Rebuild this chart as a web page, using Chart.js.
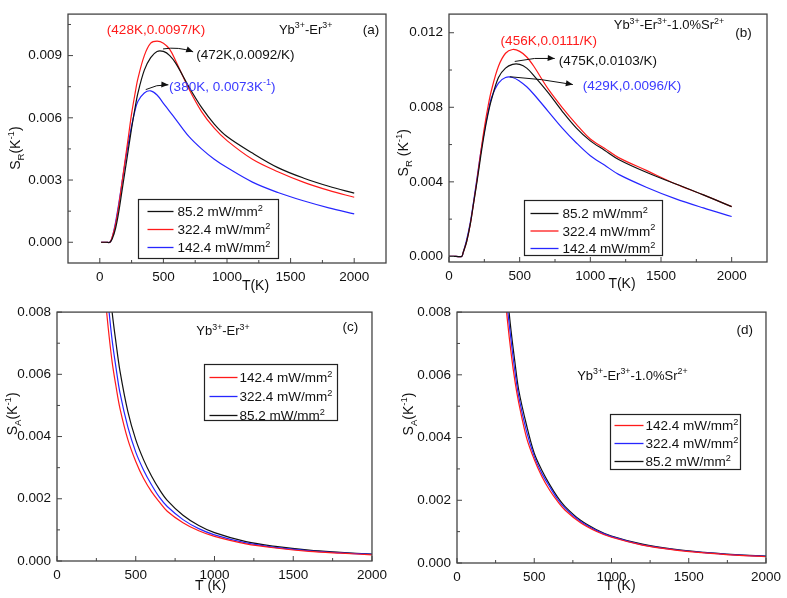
<!DOCTYPE html>
<html>
<head>
<meta charset="utf-8">
<script src="https://cdn.jsdelivr.net/npm/chart.js@4.4.0/dist/chart.umd.min.js"></script>
<style>
  body { margin: 0; background: #fff; width: 787px; height: 598px; position: relative; overflow: hidden; }
  canvas { position: absolute; }
</style>
</head>
<body>
<canvas id="chartA" width="393" height="298" style="left:0;top:0"></canvas>
<canvas id="chartB" width="394" height="298" style="left:393px;top:0"></canvas>
<canvas id="chartC" width="393" height="300" style="left:0;top:298px"></canvas>
<canvas id="chartD" width="394" height="300" style="left:393px;top:298px"></canvas>
<script>
// ---- data ----
var tempTicks = [0, 500, 1000, 1500, 2000];
var yTicksA = [0, 0.003, 0.006, 0.009];
var yTicksB = [0, 0.004, 0.008, 0.012];
var yTicksCD = [0, 0.002, 0.004, 0.006, 0.008];

// (a) Yb-Er, relative sensitivity S_R
var tempA = [10, 50, 80, 100, 125, 150, 175, 200, 225, 250, 275, 300, 350, 400, 450, 500, 550, 600, 700, 800, 900, 1000, 1200, 1400, 1600, 1800, 2000];
var srA_852 = [0, 0, 0, 0.0002, 0.0007, 0.0015, 0.0025, 0.0035, 0.0045, 0.0055, 0.0064, 0.0072, 0.0083, 0.0089, 0.0092, 0.0092, 0.0090, 0.0086, 0.0075, 0.0065, 0.0057, 0.0051, 0.0043, 0.0036, 0.0031, 0.0027, 0.00237];
var srA_3224 = [0, 0, 0, 0.0003, 0.0009, 0.0018, 0.0029, 0.0040, 0.0051, 0.0062, 0.0071, 0.0079, 0.0090, 0.0096, 0.0097, 0.0096, 0.0093, 0.0087, 0.0074, 0.0063, 0.0055, 0.0049, 0.0040, 0.0034, 0.0029, 0.0025, 0.00217];
var srA_1424 = [0, 0, 0, 0.0003, 0.0010, 0.0019, 0.0029, 0.0039, 0.0048, 0.0056, 0.0063, 0.0068, 0.0072, 0.0073, 0.0071, 0.0067, 0.0063, 0.0059, 0.0051, 0.0045, 0.0040, 0.0036, 0.0029, 0.0024, 0.0020, 0.00166, 0.00137];

// (b) Yb-Er-1.0%Sr, relative sensitivity S_R
var tempB = [0, 50, 90, 100, 125, 150, 175, 200, 225, 250, 275, 300, 350, 400, 450, 500, 550, 600, 700, 800, 900, 1000, 1100, 1200, 1400, 1600, 1800, 2000];
var srB_852 = [0, 0, 0, 0.0002, 0.0008, 0.0017, 0.0029, 0.0041, 0.0054, 0.0066, 0.0076, 0.0084, 0.0096, 0.0101, 0.0103, 0.0103, 0.0101, 0.0097, 0.0088, 0.0078, 0.0069, 0.0062, 0.0057, 0.0052, 0.0045, 0.0039, 0.0033, 0.00267];
var srB_3224 = [0, 0, 0, 0.0002, 0.0008, 0.0017, 0.0029, 0.0042, 0.0056, 0.0069, 0.0080, 0.0089, 0.0102, 0.0109, 0.0111, 0.0110, 0.0107, 0.0102, 0.0090, 0.0080, 0.0071, 0.0063, 0.0058, 0.0053, 0.0046, 0.0039, 0.0033, 0.00267];
var srB_1424 = [0, 0, 0, 0.0002, 0.0009, 0.0018, 0.0030, 0.0043, 0.0056, 0.0067, 0.0077, 0.0085, 0.0093, 0.0096, 0.0096, 0.0094, 0.0091, 0.0087, 0.0078, 0.0069, 0.0061, 0.0054, 0.0049, 0.0044, 0.0037, 0.0031, 0.0026, 0.00214];

// (c) Yb-Er, absolute sensitivity S_A
var tempC = [300, 325, 350, 375, 400, 450, 500, 550, 600, 650, 700, 800, 900, 1000, 1200, 1400, 1600, 1800, 2000];
var saC_1424 = [0.0088, 0.0075, 0.0064, 0.0056, 0.0049, 0.0039, 0.0032, 0.00265, 0.00223, 0.0019, 0.0016, 0.00123, 0.00097, 0.00079, 0.00055, 0.00041, 0.00031, 0.00025, 0.00020];
var saC_3224 = [0.0097, 0.0083, 0.0071, 0.0062, 0.0054, 0.0043, 0.0035, 0.00292, 0.00245, 0.00205, 0.00175, 0.00133, 0.00104, 0.00084, 0.00058, 0.00043, 0.00033, 0.00026, 0.00021];
var saC_852 = [0.0108, 0.0093, 0.0080, 0.0070, 0.0061, 0.0048, 0.0039, 0.00325, 0.00273, 0.0023, 0.00195, 0.00147, 0.00114, 0.00091, 0.00062, 0.00046, 0.00035, 0.00028, 0.00022];

// (d) Yb-Er-1.0%Sr, absolute sensitivity S_A
var tempD = [300, 325, 350, 375, 400, 450, 500, 550, 600, 650, 700, 800, 900, 1000, 1200, 1400, 1600, 1800, 2000];
var saD_1424 = [0.0091, 0.0078, 0.0067, 0.0058, 0.0051, 0.0040, 0.0033, 0.00275, 0.00232, 0.00197, 0.00168, 0.00128, 0.00101, 0.00082, 0.00057, 0.00042, 0.00032, 0.00025, 0.00020];
var saD_3224 = [0.0096, 0.0082, 0.0071, 0.0061, 0.0053, 0.0042, 0.0034, 0.00285, 0.00243, 0.00204, 0.00174, 0.00132, 0.00104, 0.00084, 0.00058, 0.00043, 0.00033, 0.00026, 0.00021];
var saD_852 = [0.0100, 0.0086, 0.0074, 0.0064, 0.0055, 0.0044, 0.0035, 0.00295, 0.0025, 0.00211, 0.00180, 0.00136, 0.00107, 0.00086, 0.00060, 0.00044, 0.00034, 0.00027, 0.00022];

var FONT = '"Liberation Sans", Arial, sans-serif';
var RED = '#ff1a1a', BLUE = '#2626ff', BLACK = '#111';

// text with ^{sup} and _{sub} parts
function parseRich(s) {
    var parts = [], re = /([\^_])\{([^}]*)\}|([^\^_]+)/g, m;
    while ((m = re.exec(s))) {
        if (m[3]) parts.push({ t: m[3], k: 0 });
        else parts.push({ t: m[2], k: m[1] === '^' ? 1 : -1 });
    }
    return parts;
}
function drawRich(ctx, s, x, y, size, color, align, rot) {
    var parts = parseRich(s), small = size * 0.68, w = 0;
    parts.forEach(function (p) {
        ctx.font = (p.k ? small : size) + 'px ' + FONT;
        p.w = ctx.measureText(p.t).width;
        w += p.w;
    });
    ctx.save();
    ctx.translate(x, y);
    if (rot) ctx.rotate(rot);
    ctx.fillStyle = color || BLACK;
    ctx.textBaseline = 'alphabetic';
    ctx.textAlign = 'left';
    var cx = align === 'center' ? -w / 2 : (align === 'right' ? -w : 0);
    var base = size * 0.36;
    parts.forEach(function (p) {
        ctx.font = (p.k ? small : size) + 'px ' + FONT;
        var dy = p.k === 1 ? -size * 0.42 : (p.k === -1 ? size * 0.25 : 0);
        ctx.fillText(p.t, cx, base + dy);
        cx += p.w;
    });
    ctx.restore();
}
function drawArrow(ctx, x1, y1, x2, y2, bend) {
    var mx = (x1 + x2) / 2, my = (y1 + y2) / 2;
    var dx = x2 - x1, dy = y2 - y1, len = Math.hypot(dx, dy);
    var cx = mx - dy / len * bend, cy = my + dx / len * bend;
    ctx.beginPath();
    ctx.moveTo(x1, y1);
    ctx.quadraticCurveTo(cx, cy, x2, y2);
    ctx.stroke();
    var ang = Math.atan2(y2 - cy, x2 - cx), hl = 7, hw = 3;
    ctx.beginPath();
    ctx.moveTo(x2, y2);
    ctx.lineTo(x2 - hl * Math.cos(ang) + hw * Math.sin(ang), y2 - hl * Math.sin(ang) - hw * Math.cos(ang));
    ctx.lineTo(x2 - hl * Math.cos(ang) - hw * Math.sin(ang), y2 - hl * Math.sin(ang) + hw * Math.cos(ang));
    ctx.closePath();
    ctx.fill();
}

// frame, inward ticks, titles, notes and the boxed legend
var decor = {
    id: 'decor',
    afterDatasetsDraw: function (chart, args, o) {
        var ctx = chart.ctx, a = chart.chartArea, sx = chart.scales.x, sy = chart.scales.y;
        var px = function (v) { return sx.getPixelForValue(v); };
        var py = function (v) { return sy.getPixelForValue(v); };
        ctx.save();
        ctx.strokeStyle = '#444';
        ctx.lineWidth = 1.3;
        ctx.strokeRect(a.left, a.top, a.right - a.left, a.bottom - a.top);

        ctx.lineWidth = 1;
        ctx.beginPath();
        var xt = sx.ticks.map(function (t) { return t.value; });
        var yt = sy.ticks.map(function (t) { return t.value; });
        xt.forEach(function (v) { var x = px(v); ctx.moveTo(x, a.bottom); ctx.lineTo(x, a.bottom - 5); });
        yt.forEach(function (v) { var y = py(v); ctx.moveTo(a.left, y); ctx.lineTo(a.left + 5, y); });
        var hx = (xt[1] - xt[0]) / 2, hy = (yt[1] - yt[0]) / 2;
        for (var v = xt[0] - hx; v <= sx.max - 1e-9; v += 2 * hx) {
            if (v > sx.min) { var x = px(v); ctx.moveTo(x, a.bottom); ctx.lineTo(x, a.bottom - 3); }
        }
        for (var w = yt[0] - hy; w <= sy.max - 1e-12; w += 2 * hy) {
            if (w > sy.min) { var y = py(w); ctx.moveTo(a.left, y); ctx.lineTo(a.left + 3, y); }
        }
        ctx.stroke();

        drawRich(ctx, o.xTitle.s, px(o.xTitle.at), a.bottom + o.xTitle.dy, 14, BLACK, 'center');
        drawRich(ctx, o.yTitle.s, a.left + o.yTitle.dx, py(o.yTitle.at), 14, BLACK, 'center', -Math.PI / 2);

        o.texts.forEach(function (t) {
            drawRich(ctx, t.s, px(t.at[0]), py(t.at[1]), t.size || 13.5, t.c || BLACK, t.al || 'center');
        });
        ctx.strokeStyle = BLACK;
        ctx.fillStyle = BLACK;
        ctx.lineWidth = 1;
        o.arrows.forEach(function (r) {
            drawArrow(ctx, px(r.from[0]), py(r.from[1]), px(r.to[0]), py(r.to[1]), r.bend);
        });

        var L = o.legend, lx = Math.round(px(L.at[0])) + 0.5, ly = Math.round(py(L.at[1])) + 0.5;
        ctx.fillStyle = '#fff';
        ctx.fillRect(lx, ly, L.w, L.h);
        ctx.strokeStyle = '#222';
        ctx.lineWidth = 1.2;
        ctx.strokeRect(lx, ly, L.w, L.h);
        chart.data.datasets.forEach(function (ds, i) {
            var ry = ly + L.y0 + i * L.dy;
            ctx.strokeStyle = ds.borderColor;
            ctx.lineWidth = 1.3;
            ctx.beginPath();
            ctx.moveTo(lx + L.l0, ry);
            ctx.lineTo(lx + L.l1, ry);
            ctx.stroke();
            drawRich(ctx, ds.label + ' mW/mm^{2}', lx + L.tx, ry, 13.5, BLACK, 'left');
        });
        ctx.restore();
    }
};

function series(label, temps, vals, color) {
    return {
        label: label,
        data: temps.map(function (t, i) { return { x: t, y: vals[i] }; }),
        borderColor: color,
        borderWidth: 1.2,
        pointRadius: 0,
        tension: 0.35,
        fill: false
    };
}

function panel(id, datasets, xRange, yRange, yTicks, deco) {
    var tickFont = { family: FONT, size: 13.5 };
    return new Chart(document.getElementById(id), {
        type: 'line',
        data: { datasets: datasets },
        options: {
            responsive: false,
            animation: false,
            events: [],
            layout: { padding: { top: deco.pad[0], right: deco.pad[1], left: 0, bottom: 0 } },
            plugins: { legend: { display: false }, tooltip: { enabled: false }, decor: deco },
            scales: {
                x: {
                    type: 'linear', min: xRange[0], max: xRange[1],
                    grid: { display: false, drawTicks: false }, border: { display: false },
                    afterBuildTicks: function (s) { s.ticks = tempTicks.map(function (v) { return { value: v }; }); },
                    afterFit: function (s) { s.height = deco.xh; },
                    ticks: { autoSkip: false, maxRotation: 0, padding: 6, color: BLACK, font: tickFont,
                             callback: function (v) { return String(v); } }
                },
                y: {
                    type: 'linear', min: yRange[0], max: yRange[1],
                    grid: { display: false, drawTicks: false }, border: { display: false },
                    afterBuildTicks: function (s) { s.ticks = yTicks.map(function (v) { return { value: v }; }); },
                    afterFit: function (s) { s.width = deco.yw; },
                    ticks: { autoSkip: false, padding: 6, color: BLACK, font: tickFont,
                             callback: function (v) { return v.toFixed(3); } }
                }
            }
        },
        plugins: [decor]
    });
}

panel('chartA', [
    series('85.2', tempA, srA_852, BLACK),
    series('322.4', tempA, srA_3224, RED),
    series('142.4', tempA, srA_1424, BLUE)
], [-250, 2250], [-0.001, 0.011], yTicksA, {
    pad: [2, 7], xh: 35, yw: 68,
    xTitle: { s: 'T(K)', at: 1224, dy: 22 },
    yTitle: { s: 'S_{R}(K^{-1})', at: 0.00454, dx: -53 },
    texts: [
        { s: '(428K,0.0097/K)', at: [442, 0.01028], c: RED },
        { s: 'Yb^{3+}-Er^{3+}', at: [1618, 0.01028], size: 13 },
        { s: '(a)', at: [2132, 0.01028] },
        { s: '(472K,0.0092/K)', at: [758, 0.00909], al: 'left' },
        { s: '(380K, 0.0073K^{-1})', at: [545, 0.00754], al: 'left', c: '#3a3aff' }
    ],
    arrows: [
        { from: [497, 0.00932], to: [734, 0.00918], bend: -4 },
        { from: [361, 0.00736], to: [539, 0.00759], bend: -3 }
    ],
    legend: { at: [300, 0.00208], w: 140, h: 59, y0: 12, dy: 18, l0: 9, l1: 35, tx: 39 }
});

panel('chartB', [
    series('85.2', tempB, srB_852, BLACK),
    series('322.4', tempB, srB_3224, RED),
    series('142.4', tempB, srB_1424, BLUE)
], [0, 2250], [-0.0003, 0.013], yTicksB, {
    pad: [4, 20], xh: 36, yw: 56,
    xTitle: { s: 'T(K)', at: 1224, dy: 21 },
    yTitle: { s: 'S_{R} (K^{-1})', at: 0.00556, dx: -46 },
    texts: [
        { s: 'Yb^{3+}-Er^{3+}-1.0%Sr^{2+}', at: [1556, 0.01243], size: 13 },
        { s: '(b)', at: [2084, 0.01202] },
        { s: '(456K,0.0111/K)', at: [706, 0.0116], c: RED },
        { s: '(475K,0.0103/K)', at: [776, 0.01052], al: 'left' },
        { s: '(429K,0.0096/K)', at: [947, 0.00918], al: 'left', c: '#3a3aff' }
    ],
    arrows: [
        { from: [465, 0.01046], to: [748, 0.01062], bend: -3 },
        { from: [430, 0.00964], to: [876, 0.00922], bend: -2 }
    ],
    legend: { at: [529, 0.00303], w: 138, h: 55, y0: 13, dy: 17.5, l0: 6, l1: 34, tx: 38 }
});

panel('chartC', [
    series('142.4', tempC, saC_1424, RED),
    series('322.4', tempC, saC_3224, BLUE),
    series('85.2', tempC, saC_852, BLACK)
], [0, 2000], [0, 0.008], yTicksCD, {
    pad: [11, 21], xh: 37, yw: 57,
    xTitle: { s: 'T (K)', at: 975, dy: 24 },
    yTitle: { s: 'S_{A}(K^{-1})', at: 0.00473, dx: -45 },
    texts: [
        { s: 'Yb^{3+}-Er^{3+}', at: [1054, 0.0074], size: 13 },
        { s: '(c)', at: [1862, 0.00756] }
    ],
    arrows: [],
    legend: { at: [934, 0.00632], w: 133, h: 56, y0: 13, dy: 19, l0: 5, l1: 33, tx: 35 }
});

panel('chartD', [
    series('142.4', tempD, saD_1424, RED),
    series('322.4', tempD, saD_3224, BLUE),
    series('85.2', tempD, saD_852, BLACK)
], [0, 2000], [0, 0.008], yTicksCD, {
    pad: [8, 17], xh: 35, yw: 64,
    xTitle: { s: 'T (K)', at: 1055, dy: 22 },
    yTitle: { s: 'S_{A}(K^{-1})', at: 0.00475, dx: -49 },
    texts: [
        { s: '(d)', at: [1862, 0.00745] },
        { s: 'Yb^{3+}-Er^{3+}-1.0%Sr^{2+}', at: [1135, 0.006], size: 13 }
    ],
    arrows: [],
    legend: { at: [988, 0.00475], w: 130, h: 55, y0: 11, dy: 18, l0: 4, l1: 33, tx: 35 }
});
</script>
</body>
</html>
